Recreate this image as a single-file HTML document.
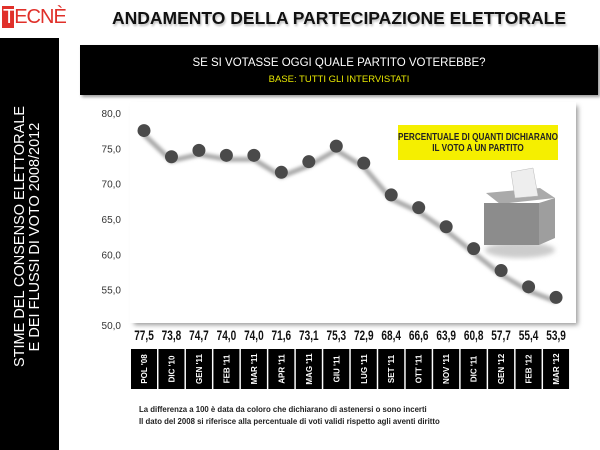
<!DOCTYPE html>
<html><head><meta charset="utf-8"><style>
body{margin:0;width:600px;height:450px;background:#fff;position:relative;overflow:hidden;font-family:"Liberation Sans",sans-serif}
.abs{position:absolute}
</style></head><body>
<div class="abs" style="left:2px;top:6px;width:52px;height:22px;">
 <div class="abs" style="left:0;top:0;width:12px;height:22px;background:#e0302a"></div>
 <div class="abs" style="left:1px;top:0;font-size:20px;color:#fff;line-height:22px;letter-spacing:-1px">T<span style="color:#e0302a">ECNÈ</span></div>
</div>
<div class="abs" style="left:0;top:38px;width:59px;height:412px;background:#000"></div>
<div class="abs" style="left:28px;top:237px;width:260px;transform:translate(-50%,-50%) rotate(-90deg);color:#fff;font-size:14.5px;line-height:15px;text-align:center;white-space:nowrap">STIME DEL CONSENSO ELETTORALE<br>E DEI FLUSSI DI VOTO 2008/2012</div>
<div class="abs" style="left:80px;top:8px;width:518px;text-align:center;font-size:17.5px;font-weight:bold;color:#111;text-shadow:1px 2px 2px #bbb">ANDAMENTO DELLA PARTECIPAZIONE ELETTORALE</div>
<div class="abs" style="left:80px;top:45px;width:518px;height:50px;background:#000;text-align:center;box-shadow:2px 2px 3px #999">
 <div style="color:#fff;font-size:11.5px;margin-top:12px">SE SI VOTASSE OGGI QUALE PARTITO VOTEREBBE?</div>
 <div style="color:#e6e600;font-size:9.5px;margin-top:5px">BASE: TUTTI GLI INTERVISTATI</div>
</div>
<svg class="abs" style="left:0;top:0" width="600" height="450">
 <defs><filter id="sh" x="-20%" y="-20%" width="140%" height="140%"><feGaussianBlur stdDeviation="2.5"/></filter>
 <filter id="ps"><feGaussianBlur stdDeviation="1.5"/></filter></defs>
 <rect x="132" y="104" width="444" height="219" fill="#999" filter="url(#sh)" transform="translate(2,2)"/>
 <rect x="130" y="102" width="446" height="221" fill="#fff"/>
 <g id="yaxis"></g><g id="marks"></g><g id="cats"></g>
 <rect x="398" y="125" width="160" height="35" fill="#f5ef00"/>
 <g transform="translate(478,0) scale(0.78,1)">
 <text x="0" y="140" text-anchor="middle" font-size="10.5" font-weight="bold" fill="#222">PERCENTUALE DI QUANTI DICHIARANO</text>
 <text x="0" y="151" text-anchor="middle" font-size="10.5" font-weight="bold" fill="#222">IL VOTO A UN PARTITO</text>
 </g>
 <g>
  <ellipse cx="520" cy="250" rx="35" ry="8" fill="#ccc" filter="url(#sh)"/>
  <polygon points="486,193 540,188 555,198 500,204" fill="#aaa"/>
  <rect x="484" y="203" width="55" height="42" fill="#8c8c8c"/>
  <polygon points="539,203 555,198 555,238 539,245" fill="#9e9e9e"/>
  <polygon points="511,172 533,168 538,196 515,198" fill="#eee" stroke="#bbb" stroke-width="0.5"/>
 </g>
</svg>
<div class="abs" style="left:139px;top:404px;font-size:7.8px;font-weight:bold;color:#222;line-height:12px">La differenza a 100 è data da coloro che dichiarano di astenersi o sono incerti<br>Il dato del 2008 si riferisce alla percentuale di voti validi rispetto agli aventi diritto</div>
<script>
const categories=["POL '08","DIC '10","GEN '11","FEB '11","MAR '11","APR '11","MAG '11","GIU '11","LUG '11","SET '11","OTT '11","NOV '11","DIC '11","GEN '12","FEB '12","MAR '12"];
const values=[77.5,73.8,74.7,74.0,74.0,71.6,73.1,75.3,72.9,68.4,66.6,63.9,60.8,57.7,55.4,53.9];
const yTicks=[50,55,60,65,70,75,80];
const ns="http://www.w3.org/2000/svg";
function y(v){return 325-(v-50)*7.07;}
function x(i){return 144+i*27.47;}
function mk(t,a,p){const e=document.createElementNS(ns,t);for(const k in a)e.setAttribute(k,a[k]);p.appendChild(e);return e;}
const ya=document.getElementById('yaxis'),m=document.getElementById('marks'),c=document.getElementById('cats');
yTicks.forEach(t=>{const e=mk('text',{x:121,y:y(t)+4,'text-anchor':'end','font-size':10,fill:'#333'},ya);e.textContent=t.toFixed(1).replace('.',',');

});
const pts=values.map((v,i)=>x(i)+','+(y(v)+4)).join(' ');
const sl=mk('polyline',{points:pts,fill:'none',stroke:'#aaa','stroke-width':5,filter:'url(#ps)'},m);


values.forEach((v,i)=>{
 const d=mk('circle',{cx:x(i),cy:y(v),r:6.5,fill:'#4a4a4a'},m);
 
 
 const t=mk('text',{x:0,y:0,'text-anchor':'middle','font-size':14,'font-weight':'bold',fill:'#111',transform:'translate('+x(i)+',340) scale(0.72,1)'},c);
 t.textContent=v.toFixed(1).replace('.',',');
 
 
 const r=mk('rect',{x:x(i)-13,y:349,width:26,height:40,fill:'#000'},c);
 
 
 const ct=mk('text',{x:0,y:0,'text-anchor':'middle','font-size':8,'font-weight':'bold',fill:'#fff',transform:'translate('+(x(i)+3)+',369) rotate(-90)'},c);
 ct.textContent=categories[i];
 
 
});
</script>
</body></html>
